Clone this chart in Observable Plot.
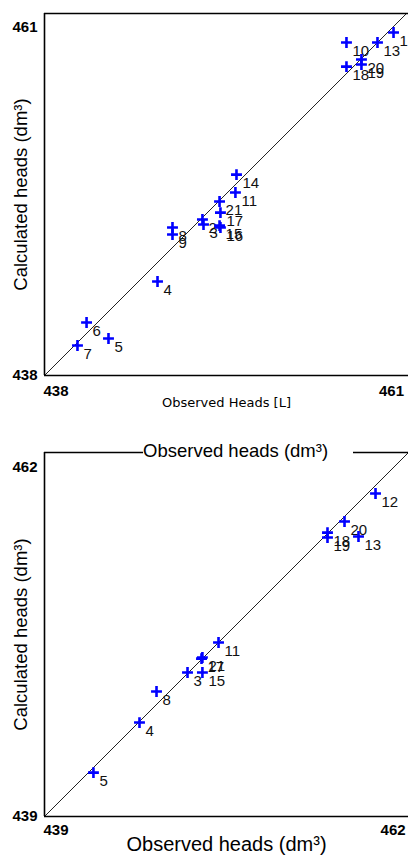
<!DOCTYPE html>
<html>
<head>
<meta charset="utf-8">
<script src="https://cdn.jsdelivr.net/npm/d3@7"></script>
<script src="https://cdn.jsdelivr.net/npm/@observablehq/plot@0.6"></script>
<style>
  html, body { margin: 0; padding: 0; background: #fff; }
  #wrap { position: relative; width: 408px; height: 863px; overflow: hidden; }
  #wrap svg { display: block; }
  #title2 { position: absolute; left: 143px; top: 440px; width: 210px; background: #fff;
    font: 18.5px "Liberation Sans", Arial, sans-serif; color: #000; line-height: 22px; white-space: nowrap; }
</style>
</head>
<body>
<div id="wrap"><div id="title2">Observed heads (dm³)</div></div>
<script>
// ---- Top panel data ----
const topIds  = ["2","3","4","5","6","7","8","9","10","11","12","13","14","15","16","17","18","19","20","21"];
const topObs  = [448.44,448.51,445.47,442.23,440.78,440.18,446.46,446.46,457.96,450.62,461.07,460.01,450.69,449.57,449.63,449.63,457.96,458.95,458.95,449.57];
const topCalc = [448.31,447.98,444.21,440.45,441.50,439.98,447.78,447.32,460.01,450.10,460.67,460.01,451.28,447.91,447.78,448.77,458.42,458.56,458.89,449.50];
const topTicks = [438, 461];
const topDomainX = [438, 462.06];
const topDomainY = [438, 461.93];
const topXLabel = "Observed Heads [L]";

// ---- Bottom panel data ----
const botIds  = ["3","4","5","8","11","12","13","15","17","18","19","20","21"];
const botObs  = [448.41,445.25,442.22,446.37,450.45,460.78,459.66,449.39,449.33,457.62,457.62,458.74,449.39];
const botCalc = [448.47,445.18,441.89,447.22,450.45,460.25,457.42,448.47,449.39,457.68,457.36,458.41,449.46];
const botTicks = [439, 462];
const botDomainX = [439, 462.95];
const botDomainY = [439, 462.95];
const botXLabel = "Observed heads (dm³)";

const yLabel = "Calculated heads (dm³)";

function panel({ids, obs, calc, ticks, domX, domY, height, marginTop, marginBottom, xLabel, xLabelFont, xLabelDy, tickDy}) {
  const pts = ids.map((id, i) => ({id, x: obs[i], y: calc[i]}));
  const lineEnd = Math.min(domX[1], domY[1]);
  const diag = [{x: domX[0], y: domY[0]}, {x: lineEnd, y: lineEnd}];
  return Plot.plot({
    width: 408,
    height,
    marginLeft: 44,
    marginRight: 0,
    marginTop,
    marginBottom,
    style: {background: "#fff", fontFamily: "'Liberation Sans', Arial, sans-serif"},
    x: {domain: domX, axis: null},
    y: {domain: domY, axis: null},
    marks: [
      Plot.line(diag, {x: "x", y: "y", stroke: "#222", strokeWidth: 1}),
      Plot.ruleX([domX[0]], {stroke: "#000", strokeWidth: 1.6}),
      Plot.ruleY([domY[0]], {stroke: "#000", strokeWidth: 1.6}),
      Plot.ruleY([domY[1]], {stroke: "#000", strokeWidth: 1.6}),
      Plot.text(pts, {x: "x", y: "y", text: "id", dx: 6, dy: 9, textAnchor: "start", fontSize: 15, fill: "#111"}),
      Plot.dot(pts, {x: "x", y: "y", symbol: "plus", r: 3.6, stroke: "#0000ff", strokeWidth: 2.6}),
      // tick labels
      Plot.text([ticks[0]], {x: d => d, frameAnchor: "bottom", dy: tickDy, textAnchor: "start", dx: -1, text: d => String(d), fontSize: 15, fontWeight: "bold", fill: "#000"}),
      Plot.text([ticks[1]], {x: d => d, frameAnchor: "bottom", dy: tickDy, textAnchor: "middle", dx: -1, text: d => String(d), fontSize: 15, fontWeight: "bold", fill: "#000"}),
      Plot.text(ticks, {y: d => d, frameAnchor: "left", dx: -7, textAnchor: "end", text: d => String(d), fontSize: 15, fontWeight: "bold", fill: "#000"}),
      // axis titles
      Plot.text([yLabel], {frameAnchor: "left", dx: -23, rotate: -90, textAnchor: "middle", text: d => d, fontSize: 18.5, fill: "#000"}),
      Plot.text([xLabel], {frameAnchor: "bottom", dy: xLabelDy, textAnchor: "middle", text: d => d, ...xLabelFont, fill: "#000"})
    ]
  });
}

const wrap = document.getElementById("wrap");
const top1 = panel({ids: topIds, obs: topObs, calc: topCalc, ticks: topTicks, domX: topDomainX, domY: topDomainY,
  height: 430, marginTop: 13, marginBottom: 55, xLabel: topXLabel,
  xLabelFont: {fontSize: 13, fontFamily: "'DejaVu Sans', Verdana, sans-serif"}, xLabelDy: 31, tickDy: 20});
const bot1 = panel({ids: botIds, obs: botObs, calc: botCalc, ticks: botTicks, domX: botDomainX, domY: botDomainY,
  height: 433, marginTop: 22, marginBottom: 47, xLabel: botXLabel,
  xLabelFont: {fontSize: 20}, xLabelDy: 34, tickDy: 18});
wrap.insertBefore(top1, wrap.firstChild);
wrap.insertBefore(bot1, document.getElementById("title2"));
</script>
</body>
</html>
